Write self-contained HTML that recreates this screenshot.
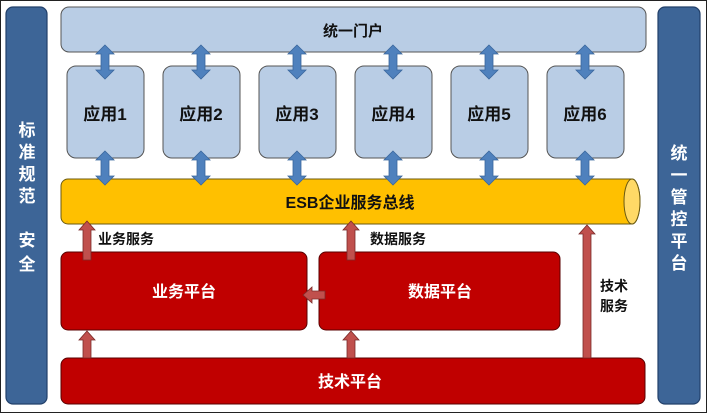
<!DOCTYPE html>
<html><head><meta charset="utf-8"><style>
html,body{margin:0;padding:0;background:#fff;width:707px;height:413px;overflow:hidden}
text{font-family:"Liberation Sans","Noto Sans CJK SC",sans-serif;font-weight:bold}
</style></head><body>
<svg width="707" height="413" viewBox="0 0 707 413" xmlns="http://www.w3.org/2000/svg">
<defs>
<g id="dbl"><polygon points="0,-17 9,-8 4,-8 4,8 9,8 0,17 -9,8 -4,8 -4,-8 -9,-8" fill="#4f81bd" stroke="#3a679e" stroke-width="0.8"/></g>
</defs>
<rect x="0.5" y="0.5" width="706" height="412" fill="none" stroke="#222" stroke-width="1"/>
<rect x="6" y="7" width="41" height="397" rx="7" fill="#3d6597" stroke="#22406a" stroke-width="1.2"/>
<rect x="658" y="7" width="42" height="397" rx="7" fill="#3d6597" stroke="#22406a" stroke-width="1.2"/>
<g fill="#fff" font-size="17" text-anchor="middle">
<text x="27" y="136">标</text><text x="27" y="158">准</text><text x="27" y="180">规</text><text x="27" y="202">范</text>
<text x="27" y="246">安</text><text x="27" y="270">全</text>
<text x="679" y="159">统</text><text x="679" y="181">一</text><text x="679" y="203">管</text><text x="679" y="225">控</text><text x="679" y="247">平</text><text x="679" y="269">台</text>
</g>
<rect x="61" y="7" width="585" height="45" rx="8" fill="#b9cde5" stroke="#555" stroke-width="1"/>
<text x="353" y="36" font-size="15" text-anchor="middle" fill="#111">统一门户</text>
<g>
<rect x="67" y="66" width="77" height="92" rx="9" fill="#b9cde5" stroke="#555"/>
<rect x="163" y="66" width="77" height="92" rx="9" fill="#b9cde5" stroke="#555"/>
<rect x="259" y="66" width="77" height="92" rx="9" fill="#b9cde5" stroke="#555"/>
<rect x="355" y="66" width="77" height="92" rx="9" fill="#b9cde5" stroke="#555"/>
<rect x="451" y="66" width="77" height="92" rx="9" fill="#b9cde5" stroke="#555"/>
<rect x="547" y="66" width="77" height="92" rx="9" fill="#b9cde5" stroke="#555"/>
</g>
<g font-size="17" text-anchor="middle" fill="#111">
<text x="105" y="120">应用1</text><text x="201" y="120">应用2</text><text x="297" y="120">应用3</text>
<text x="393" y="120">应用4</text><text x="489" y="120">应用5</text><text x="585" y="120">应用6</text>
</g>
<path d="M68,179 H632 A8,22.5 0 0 1 632,224 H68 A7,7 0 0 1 61,217 V186 A7,7 0 0 1 68,179 Z" fill="#ffc000" stroke="#6b5a10" stroke-width="1"/>
<ellipse cx="632" cy="201.5" rx="8" ry="22.5" fill="#ffd966" stroke="#6b5a10" stroke-width="1"/>
<text x="350" y="208" font-size="16" text-anchor="middle" fill="#111">ESB企业服务总线</text>
<g>
<use href="#dbl" x="105" y="62"/><use href="#dbl" x="201" y="62"/><use href="#dbl" x="297" y="62"/>
<use href="#dbl" x="393" y="62"/><use href="#dbl" x="489" y="62"/><use href="#dbl" x="585" y="62"/>
<use href="#dbl" x="105" y="168"/><use href="#dbl" x="201" y="168"/><use href="#dbl" x="297" y="168"/>
<use href="#dbl" x="393" y="168"/><use href="#dbl" x="489" y="168"/><use href="#dbl" x="585" y="168"/>
</g>
<rect x="61" y="252" width="246" height="78" rx="7" fill="#c00000" stroke="#5a0000"/>
<rect x="319" y="252" width="241" height="78" rx="7" fill="#c00000" stroke="#5a0000"/>
<rect x="61" y="358" width="584" height="46" rx="7" fill="#c00000" stroke="#5a0000"/>
<g font-size="16" text-anchor="middle" fill="#fff">
<text x="184" y="297">业务平台</text><text x="440" y="297">数据平台</text><text x="350" y="387">技术平台</text>
</g>
<g fill="#c0504d" stroke="#7a2a28" stroke-width="0.8">
<polygon points="87,221 95,230 91,230 91,260 83,260 83,230 79,230"/>
<polygon points="351,221 359,230 355,230 355,260 347,260 347,230 343,230"/>
<polygon points="587,225 595,234 591,234 591,358 583,358 583,234 579,234"/>
<polygon points="87,331 95,340 91,340 91,358 83,358 83,340 79,340"/>
<polygon points="351,331 359,340 355,340 355,358 347,358 347,340 343,340"/>
<polygon points="303,295 312,287 312,291 325,291 325,299 312,299 312,303"/>
</g>
<g font-size="14" fill="#111">
<text x="98" y="244">业务服务</text><text x="370" y="244">数据服务</text>
<text x="600" y="291">技术</text><text x="600" y="311">服务</text>
</g>
</svg>
</body></html>
